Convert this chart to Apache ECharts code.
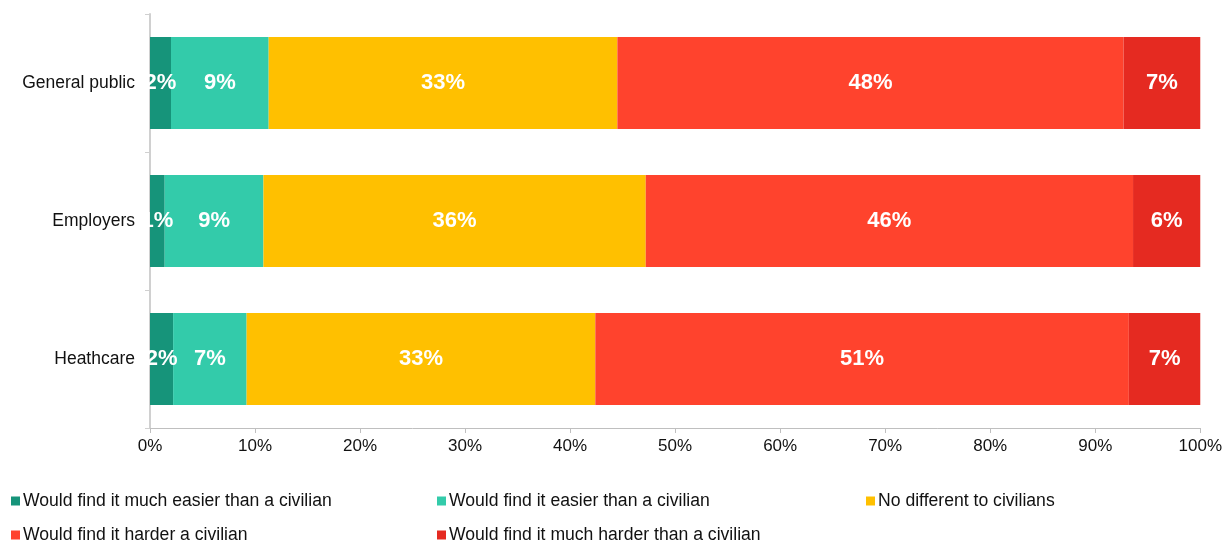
<!DOCTYPE html>
<html>
<head>
<meta charset="utf-8">
<script src="https://cdn.jsdelivr.net/npm/echarts@6/dist/echarts.min.js"></script>
<style>
  html, body { margin: 0; padding: 0; background: #fff; }
  #chart { width: 1225px; height: 541px; }
</style>
</head>
<body>
<div id="chart"></div>
<script>
// Survey groups, top to bottom
const categories = ['General public', 'Employers', 'Heathcare'];

// Share of respondents (%) per answer
const seriesNames = [
  'Would find it much easier than a civilian',
  'Would find it easier than a civilian',
  'No different to civilians',
  'Would find it harder a civilian',
  'Would find it much harder than a civilian'
];
const muchEasier = [2.0, 1.4, 2.2];
const easier     = [9.3, 9.4, 7.0];
const noDiff     = [33.2, 36.4, 33.2];
const harder     = [48.2, 46.4, 50.8];
const muchHarder = [7.3, 6.4, 6.8];

const xTicks = ['0%', '10%', '20%', '30%', '40%', '50%', '60%', '70%', '80%', '90%', '100%'];

const colors = ['#16947A', '#33CBAA', '#FFC000', '#FF432D', '#E52A21'];
const values = [muchEasier, easier, noDiff, harder, muchHarder];

const FONT = '"Liberation Sans", Arial, sans-serif';

const series = seriesNames.map((name, i) => ({
  name,
  type: 'bar',
  stack: 'total',
  barWidth: 92,
  itemStyle: { color: colors[i] },
  label: {
    show: true,
    position: 'inside',
    color: '#fff',
    fontFamily: FONT,
    fontWeight: 'bold',
    fontSize: 22,
    formatter: p => Math.round(p.value) + '%'
  },
  data: values[i]
}));

// Legend laid out in a 3-column grid
const legendPos = [
  { left: 6, top: 487 },
  { left: 432, top: 487 },
  { left: 861, top: 487 },
  { left: 6, top: 521 },
  { left: 432, top: 521 }
];
const legends = seriesNames.map((name, i) => ({
  data: [name],
  left: legendPos[i].left,
  top: legendPos[i].top,
  orient: 'horizontal',
  itemWidth: 9,
  itemHeight: 9,
  icon: 'rect',
  selectedMode: false,
  textStyle: { fontFamily: FONT, fontSize: 17.6, color: '#111', padding: [0, 0, 0, -2] }
}));

const chart = echarts.init(document.getElementById('chart'), null, { renderer: 'canvas' });
chart.setOption({
  animation: false,
  backgroundColor: '#fff',
  grid: { left: 150, right: 24, top: 14, bottom: 113, containLabel: false },
  legend: legends,
  xAxis: {
    type: 'value',
    min: 0,
    max: 100,
    interval: 10,
    axisLine: { show: true, lineStyle: { color: '#BFBFBF', width: 1 } },
    axisTick: { show: true, length: 5, lineStyle: { color: '#BFBFBF' } },
    splitLine: { show: false },
    axisLabel: {
      fontFamily: FONT,
      fontSize: 17,
      color: '#111',
      margin: 10,
      formatter: v => xTicks[Math.round(v / 10)]
    }
  },
  yAxis: {
    type: 'category',
    inverse: true,
    data: categories,
    axisLine: { show: true, lineStyle: { color: '#D0D0D0', width: 2 } },
    axisTick: { show: true, length: 5, lineStyle: { color: '#D0D0D0' } },
    axisLabel: { fontFamily: FONT, fontSize: 17.5, color: '#111', margin: 15 }
  },
  series
});
</script>
</body>
</html>
